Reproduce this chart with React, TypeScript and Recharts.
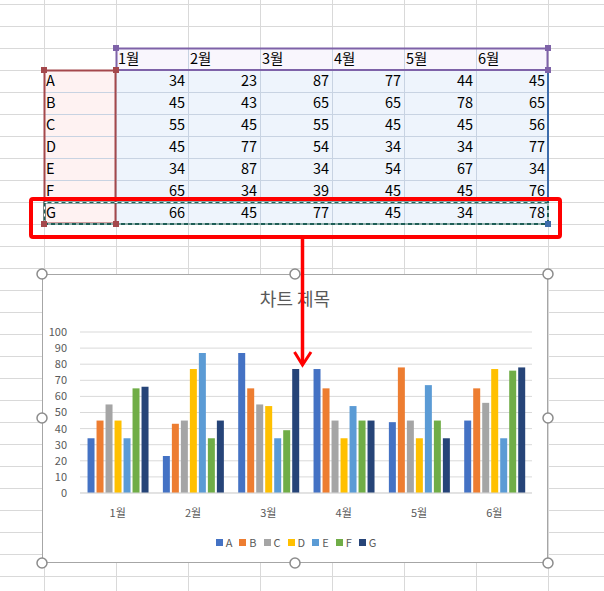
import React from "react";
import { BarChart, Bar, XAxis, YAxis, CartesianGrid, Legend } from "recharts";

const months = ["1월", "2월", "3월", "4월", "5월", "6월"];
const seriesNames = ["A", "B", "C", "D", "E", "F", "G"];
const valuesA = [34, 23, 87, 77, 44, 45];
const valuesB = [45, 43, 65, 65, 78, 65];
const valuesC = [55, 45, 55, 45, 45, 56];
const valuesD = [45, 77, 54, 34, 34, 77];
const valuesE = [34, 87, 34, 54, 67, 34];
const valuesF = [65, 34, 39, 45, 45, 76];
const valuesG = [66, 45, 77, 45, 34, 78];
const yTicks = [0, 10, 20, 30, 40, 50, 60, 70, 80, 90, 100];

const seriesValues = [valuesA, valuesB, valuesC, valuesD, valuesE, valuesF, valuesG];
const colors = ["#4472C4", "#ED7D31", "#A5A5A5", "#FFC000", "#5B9BD5", "#70AD47", "#264478"];

const chartData = months.map((m, i) => {
  const row: Record<string, string | number> = { month: m };
  seriesNames.forEach((s, j) => (row[s] = seriesValues[j][i]));
  return row;
});

const FONT = "'Noto Sans CJK KR', 'Noto Sans', sans-serif";
const GRAY = "#595959";

// spreadsheet geometry
const colX = [44, 116, 188, 260, 332, 404, 476, 548];
const rowY = [4, 26, 48, 70, 92, 114, 136, 158, 180, 202, 224, 246, 268, 290, 312, 334, 356, 378, 400, 422, 444, 466, 488, 510, 532, 554, 576];

const Sheet = () => {
  const tableTop = 48;
  const rowH = 22;
  return (
    <svg width={604} height={591} style={{ position: "absolute", left: 0, top: 0 }}>
      {colX.map((x) => (
        <line key={"v" + x} x1={x + 0.5} x2={x + 0.5} y1={0} y2={591} stroke="#D9D9D9" />
      ))}
      {rowY.map((y) => (
        <line key={"h" + y} x1={0} x2={604} y1={y + 0.5} y2={y + 0.5} stroke="#D9D9D9" />
      ))}
      {/* fills */}
      <rect x={116} y={48} width={432} height={22} fill="#F9F6FD" />
      <rect x={44} y={70} width={72} height={154} fill="#FEF2F2" />
      <rect x={116} y={70} width={432} height={154} fill="#EEF4FC" />
      {/* inner cell lines */}
      {colX.slice(1, 7).map((x) => (
        <line key={"iv" + x} x1={x + 0.5} x2={x + 0.5} y1={48} y2={224} stroke="#C8D3E2" />
      ))}
      {[92, 114, 136, 158, 180, 202].map((y) => (
        <line key={"ih" + y} x1={44} x2={548} y1={y + 0.5} y2={y + 0.5} stroke="#C8D3E2" />
      ))}
      {/* header text */}
      {months.map((m, i) => (
        <text key={m} x={colX[i + 1] + 2} y={tableTop + 16} fontSize={14.5} fontFamily={FONT} fill="#000">
          {m}
        </text>
      ))}
      {seriesNames.map((s, r) => (
        <g key={s}>
          <text x={46} y={tableTop + rowH * (r + 1) + 16} fontSize={14.5} fontFamily={FONT} fill="#000">
            {s}
          </text>
          {seriesValues[r].map((v, c) => (
            <text
              key={c}
              x={colX[c + 2] - 3}
              y={tableTop + rowH * (r + 1) + 16}
              fontSize={14.5}
              fontFamily={FONT}
              textAnchor="end"
              fill="#000"
            >
              {v}
            </text>
          ))}
        </g>
      ))}
      {/* range borders */}
      <rect x={116.5} y={48.5} width={431} height={21.5} fill="none" stroke="#7E62A8" strokeWidth={2} />
      <rect x={44.5} y={70.5} width={71} height={153} fill="none" stroke="#A4484C" strokeWidth={2} />
      <line x1={548} x2={548} y1={70} y2={224} stroke="#3D6CAB" strokeWidth={2} />
      {/* copy marquee */}
      <rect x={44.5} y={202.5} width={503.5} height={21.5} fill="none" stroke="#1E5E56" strokeWidth={2} />
      <rect x={44.5} y={202.5} width={503.5} height={21.5} fill="none" stroke="#FFFFFF" strokeWidth={1.2} strokeDasharray="3 4" />
      {/* handles */}
      {[[116, 48], [548, 48], [548, 70]].map(([x, y]) => (
        <rect key={"p" + x + y} x={x - 3} y={y - 3} width={6} height={6} fill="#7E62A8" />
      ))}
      {[[44, 70], [116, 70], [44, 224], [116, 224]].map(([x, y]) => (
        <rect key={"r" + x + y} x={x - 3} y={y - 3} width={6} height={6} fill="#A4484C" />
      ))}
      <rect x={545} y={221} width={6} height={6} fill="#3D6CAB" />
    </svg>
  );
};

const Overlay = () => {
  const handles = [
    [42, 274], [295, 274], [548, 274],
    [42, 418], [548, 418],
    [42, 563], [295, 563], [548, 563],
  ];
  return (
    <svg width={604} height={591} style={{ position: "absolute", left: 0, top: 0, pointerEvents: "none" }}>
      <rect x={31} y={199} width={529} height={38} fill="none" stroke="#FF0000" strokeWidth={4} rx={2} />
      <line x1={302.5} x2={302.5} y1={237} y2={364} stroke="#FF0000" strokeWidth={3.5} />
      <polyline points="294.5,352 302.5,365 311,352" fill="none" stroke="#FF0000" strokeWidth={3} />
      {handles.map(([x, y]) => (
        <circle key={x + "-" + y} cx={x} cy={y} r={5} fill="#FFFFFF" stroke="#8C8C8C" strokeWidth={1.5} />
      ))}
    </svg>
  );
};

const LegendContent = (props: any) => {
  const payload = props.payload || [];
  return (
    <div style={{ height: 18, display: "flex", justifyContent: "center", alignItems: "center", fontFamily: FONT, fontSize: 11, color: GRAY }}>
      {payload.map((p: any, i: number) => (
        <span key={p.value} style={{ display: "inline-flex", alignItems: "center", marginRight: i === payload.length - 1 ? 0 : 7 }}>
          <span style={{ width: 7, height: 7, background: p.color, marginRight: 3, display: "inline-block" }} />
          {p.value}
        </span>
      ))}
    </div>
  );
};

export default function App() {
  return (
    <div style={{ position: "absolute", left: 0, top: 0, width: 604, height: 591, overflow: "hidden", background: "#FFFFFF" }}>
      <Sheet />
      <div
        style={{
          position: "absolute",
          left: 42,
          top: 274,
          width: 506,
          height: 289,
          border: "1px solid #A6A6A6",
          boxSizing: "border-box",
          background: "#FFFFFF",
        }}
      >
        <div
          style={{
            position: "absolute",
            left: 0,
            top: 11,
            width: 504,
            textAlign: "center",
            fontFamily: FONT,
            fontSize: 18,
            lineHeight: "24px",
            color: GRAY,
          }}
        >
          차트 제목
        </div>
        <BarChart
          width={504}
          height={287}
          data={chartData}
          margin={{ top: 57, right: 15, left: 0, bottom: 11 }}
          barCategoryGap="10%"
          barGap={2}
        >
          <CartesianGrid vertical={false} stroke="#D9D9D9" />
          <XAxis
            dataKey="month"
            height={40}
            tickSize={0}
            tickMargin={16}
            axisLine={{ stroke: "#D9D9D9" }}
            tickLine={false}
            tick={{ fontSize: 11, fill: GRAY, fontFamily: FONT }}
          />
          <YAxis
            width={37}
            domain={[0, 100]}
            ticks={yTicks}
            interval={0}
            tickSize={0}
            tickMargin={13}
            axisLine={false}
            tickLine={false}
            tick={{ fontSize: 11, fill: GRAY, fontFamily: FONT }}
          />
          <Legend
            verticalAlign="bottom"
            align="center"
            height={18}
            wrapperStyle={{ left: 0, width: 506 }}
            content={<LegendContent />}
          />
          {seriesNames.map((s, j) => (
            <Bar key={s} dataKey={s} fill={colors[j]} isAnimationActive={false} />
          ))}
        </BarChart>
      </div>
      <Overlay />
    </div>
  );
}
